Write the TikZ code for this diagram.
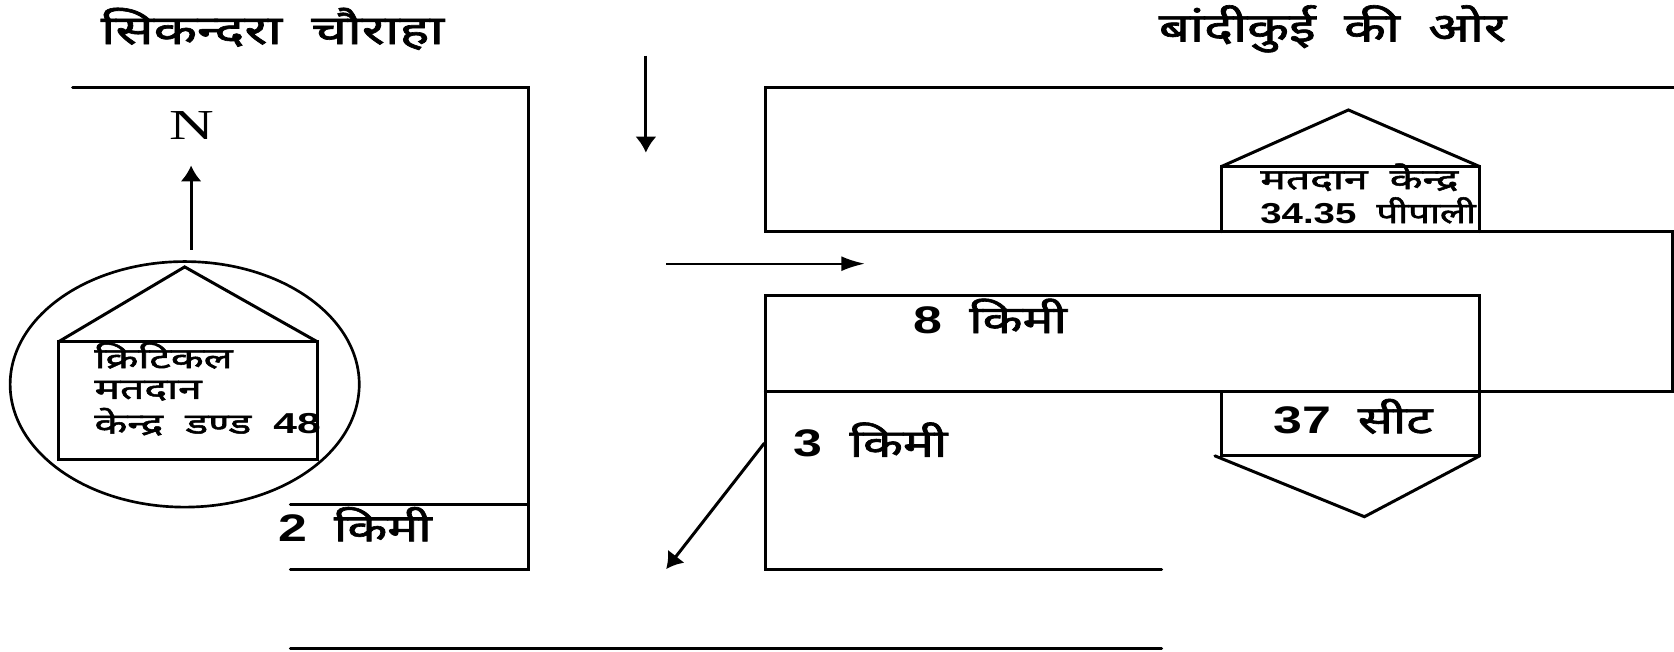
\documentclass[tikz,border=0pt]{standalone}
\usepackage{fontspec}
\setmainfont{Liberation Serif}
\newfontfamily\hindi[Script=Devanagari,FakeBold=1.6]{Noto Sans}
\newfontfamily\numfont{Liberation Sans}
\usetikzlibrary{arrows.meta,calc,shapes.geometric}
\tikzset{
    road/.style = {draw, line width=1.4pt, line cap=round, line join=miter},
    arrow/.style = {draw, line width=1.4pt, -{Latex[length=7.5pt,width=10pt]}},
    slimarrow/.style = {draw, line width=0.9pt, -{Latex[length=11pt,width=7pt]}},
    head/.style = {anchor=west, inner sep=0pt, xscale=1.37, font=\hindi\fontsize{19pt}{19pt}\selectfont},
    label/.style = {anchor=west, inner sep=0pt, xscale=1.35, font=\hindi\fontsize{18pt}{18pt}\selectfont},
    small/.style = {anchor=west, inner sep=0pt, xscale=1.48, font=\hindi\fontsize{13.5pt}{13.5pt}\selectfont}
}
\newcommand{\nm}[1]{{\numfont\bfseries #1}}
\begin{document}
\begin{tikzpicture}[x=0.5pt,y=-0.5pt]
        \useasboundingbox (0,0) rectangle (1568,610.7);
        % headings
        \node [head, xscale=1.015] (sikandra) at (94,27) {सिकन्दरा\ \ चौराहा};
        \node [head, xscale=0.98] (bandikui) at (1085,27) {बांदीकुई\ \ की\ \ ओर};
        % left block
        \coordinate (lt1) at (68,82);
        \coordinate (lt2) at (495,82);
        \coordinate (lm1) at (272,473);
        \coordinate (lm2) at (495,473);
        \coordinate (lb1) at (272,533);
        \coordinate (lb2) at (495,533);
        \draw [road] (lt1) -- (lt2) -- (lb2) -- (lb1);
        \draw [road] (lm1) -- (lm2);
        \coordinate (bot1) at (272,607);
        \coordinate (bot2) at (1088,607);
        \draw [road] (bot1) -- (bot2);
        % north mark
        \node [inner sep=0pt, xscale=1.45, font=\fontsize{20pt}{20pt}\selectfont] (north) at (180,118) {N};
        \coordinate (ntail) at (179,234);
        \coordinate (ntip) at (179,155);
        \draw [arrow] (ntail) -- (ntip);
        % critical booth
        \node [draw, ellipse, line width=1.25pt, minimum width=163.5pt, minimum height=115pt, inner sep=0pt] (ring) at (173,360) {};
        \coordinate (cr1) at (55,320);
        \coordinate (cr2) at (297,320);
        \coordinate (cr3) at (297,430);
        \coordinate (cr4) at (55,430);
        \coordinate (croof) at (173,250);
        \draw [road] (cr1) -- (cr2) -- (cr3) -- (cr4) -- cycle;
        \draw [road] (cr1) -- (croof) -- (cr2);
        \node [small] (crit1) at (88,333) {क्रिटिकल};
        \node [small] (crit2) at (88,366) {मतदान};
        \node [small] (crit3) at (88,395) {केन्द्र\ \ डण्ड\ \ \nm{48}};
        \node [label] (km2) at (260,491) {\nm{2}\ \ किमी};
        % travel arrows
        \coordinate (dn1) at (605,52);
        \coordinate (dn2) at (605,143);
        \draw [arrow] (dn1) -- (dn2);
        \coordinate (rt1) at (624,247);
        \coordinate (rt2) at (810,247);
        \draw [slimarrow] (rt1) -- (rt2);
        \coordinate (dg1) at (716,415);
        \coordinate (dg2) at (624,533);
        \draw [arrow] (dg1) -- (dg2);
        % right block
        \coordinate (rt) at (1568,82);
        \coordinate (a1) at (717,82);
        \coordinate (a2) at (717,217);
        \coordinate (a3) at (1567,217);
        \coordinate (a4) at (1567,367);
        \coordinate (a5) at (717,367);
        \coordinate (a6) at (717,277);
        \coordinate (a7) at (1386,277);
        \coordinate (a8) at (1386,367);
        \coordinate (a9) at (717,533);
        \coordinate (a10) at (1088,533);
        \draw [road] (rt) -- (a1) -- (a2) -- (a3) -- (a4) -- (a5);
        \draw [road] (a8) -- (a7) -- (a6) -- (a9) -- (a10);
        % upper booth
        \coordinate (ub1) at (1144,217);
        \coordinate (ub2) at (1144,156);
        \coordinate (ub3) at (1386,156);
        \coordinate (ub4) at (1386,217);
        \coordinate (uroof) at (1263,103);
        \draw [road] (ub1) -- (ub2) -- (ub3) -- (ub4);
        \draw [road] (ub2) -- (uroof) -- (ub3);
        \node [small] (booth1) at (1180,166) {मतदान\ \ केन्द्र};
        \node [small, xscale=0.9] (booth2) at (1180,197) {\nm{34.35}\ \ पीपाली};
        % lower booth
        \coordinate (lo1) at (1144,367);
        \coordinate (lo2) at (1144,427);
        \coordinate (lo3) at (1386,427);
        \coordinate (lo4) at (1386,367);
        \coordinate (lo5) at (1138,427);
        \coordinate (lotip) at (1278,484);
        \draw [road] (lo1) -- (lo2) -- (lo3) -- (lo4);
        \draw [road] (lo5) -- (lotip) -- (lo3);
        \node [label] (seat) at (1192,390) {\nm{37}\ \ सीट};
        \node [label] (km8) at (855,296) {\nm{8}\ \ किमी};
        \node [label] (km3) at (743,412) {\nm{3}\ \ किमी};
\end{tikzpicture}
\end{document}
